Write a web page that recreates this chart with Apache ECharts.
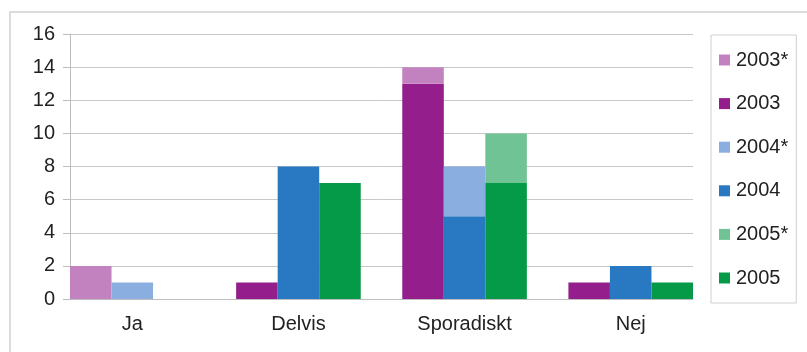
<!DOCTYPE html>
<html>
<head>
<meta charset="utf-8">
<script src="https://cdn.jsdelivr.net/npm/echarts@6/dist/echarts.min.js"></script>
<style>
  html, body { margin: 0; padding: 0; background: #fff; }
  #chart { width: 807px; height: 352px; }
</style>
</head>
<body>
<div id="chart"></div>
<script>
// Answer categories and counts per year (* = supplementary responses)
const categories = ['Ja', 'Delvis', 'Sporadiskt', 'Nej'];
const y2003 = [0, 1, 13, 1];
const y2003s = [2, 0, 1, 0];
const y2004 = [0, 8, 5, 2];
const y2004s = [1, 0, 3, 0];
const y2005 = [0, 7, 7, 1];
const y2005s = [0, 0, 3, 0];
const yTicks = [0, 2, 4, 6, 8, 10, 12, 14, 16];

const FONT = "'Liberation Sans', Arial, Helvetica, sans-serif";
const colors = {
  '2003*': '#c282c0', '2003': '#931e8c',
  '2004*': '#8aaedf', '2004': '#2878c2',
  '2005*': '#70c394', '2005': '#049a47'
};

// Each category gets three year slots followed by one empty spacer slot
const slotKeys = [];
const slotLabel = {};
categories.forEach((c, i) => {
  for (let k = 0; k < 3; k++) {
    const key = c + '#' + k;
    slotKeys.push(key);
    slotLabel[key] = k === 1 ? c : '';
  }
  if (i < categories.length - 1) {
    const gap = 'gap#' + i;
    slotKeys.push(gap);
    slotLabel[gap] = '';
  }
});

function slotData(values, yearIdx) {
  const out = slotKeys.map(() => '-');
  values.forEach((v, i) => { out[i * 4 + yearIdx] = v; });
  return out;
}

const seriesDefs = [
  ['2003', y2003, 0], ['2003*', y2003s, 0],
  ['2004', y2004, 1], ['2004*', y2004s, 1],
  ['2005', y2005, 2], ['2005*', y2005s, 2]
];

const chart = echarts.init(document.getElementById('chart'), null, { renderer: 'canvas' });
chart.setOption({
  animation: false,
  backgroundColor: '#fff',
  textStyle: { fontFamily: FONT },
  graphic: [{
    type: 'rect',
    shape: { x: 10, y: 12, width: 830, height: 400 },
    style: { fill: 'none', stroke: '#dcdcdc', lineWidth: 2 },
    z: -1
  }],
  grid: { left: 70, right: 114, top: 34, bottom: 53, containLabel: false },
  legend: {
    orient: 'vertical',
    left: 711,
    top: 35,
    padding: [15, 8, 15, 8],
    itemWidth: 11,
    itemHeight: 11,
    itemGap: 23.6,
    icon: 'rect',
    borderColor: '#cfcfcf',
    borderWidth: 1,
    data: ['2003*', '2003', '2004*', '2004', '2005*', '2005'],
    textStyle: { fontSize: 20, lineHeight: 20, color: '#222', fontFamily: FONT, padding: [0, 0, 0, 1] }
  },
  xAxis: {
    type: 'category',
    data: slotKeys,
    axisLine: { show: true, lineStyle: { color: '#bdbdbd', width: 1 } },
    axisTick: { show: false },
    axisLabel: {
      interval: 0,
      margin: 15,
      fontSize: 20,
      color: '#222',
      fontFamily: FONT,
      formatter: v => slotLabel[v]
    }
  },
  yAxis: {
    type: 'value',
    min: yTicks[0],
    max: yTicks[yTicks.length - 1],
    interval: 2,
    axisLine: { show: true, lineStyle: { color: '#bdbdbd', width: 1 } },
    axisTick: { show: true, length: 7, lineStyle: { color: '#bdbdbd' } },
    axisLabel: { margin: 15, fontSize: 20, color: '#222', fontFamily: FONT },
    splitLine: { lineStyle: { color: '#c8c8c8', width: 1 } }
  },
  series: seriesDefs.map(([name, vals, idx]) => ({
    name,
    type: 'bar',
    stack: 'all',
    barCategoryGap: '0%',
    data: slotData(vals, idx),
    itemStyle: { color: colors[name] }
  }))
});
</script>
</body>
</html>
